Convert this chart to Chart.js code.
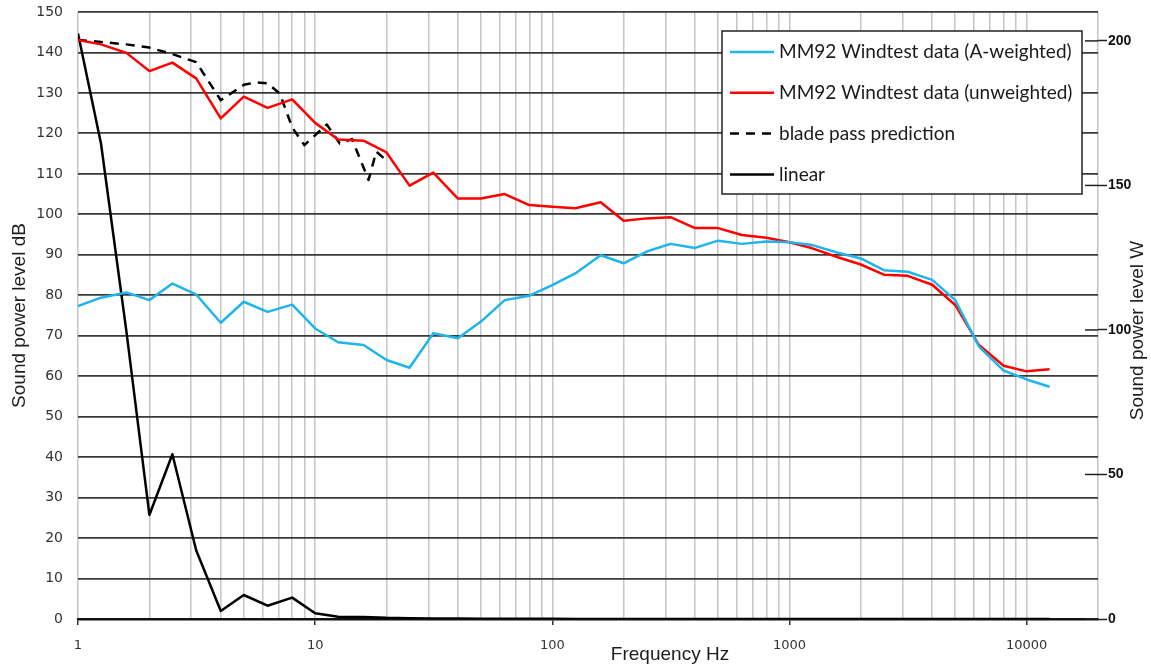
<!DOCTYPE html>
<html lang="en">
<head>
  <meta charset="UTF-8" />
  <title>Sound power level vs frequency</title>
  <script src="https://cdn.jsdelivr.net/npm/chart.js"></script>
  <style>
    html, body {
      margin: 0;
      padding: 0;
      background: #ffffff;
    }
    #wrap {
      width: 1151px;
      height: 666px;
    }
  </style>
</head>
<body>
  <div id="wrap"><canvas id="soundChart" width="1151" height="666"></canvas></div>

  <script>
    // 1/3 octave band centre frequencies (Hz)
    const freqs = [1, 1.25, 1.6, 2, 2.5, 3.15, 4, 5, 6.3, 8, 10, 12.5, 16, 20, 25, 31.5, 40, 50, 63, 80,
      100, 125, 160, 200, 250, 315, 400, 500, 630, 800, 1000, 1250, 1600, 2000, 2500, 3150, 4000, 5000,
      6300, 8000, 10000, 12500];

    // MM92 windtest, dB
    const aWeighted = [77.3, 79.4, 80.7, 78.8, 82.9, 80.2, 73.2, 78.4, 75.9, 77.7,
      71.8, 68.4, 67.7, 64.0, 62.1, 70.6, 69.4, 73.5, 78.8, 79.9,
      82.5, 85.4, 89.9, 87.9, 90.8, 92.7, 91.7, 93.5, 92.7, 93.3,
      93.1, 92.4, 90.5, 89.1, 86.2, 85.8, 83.8, 78.8, 67.3, 61.4, 59.2, 57.4];
    const unweighted = [143.1, 142.0, 139.9, 135.4, 137.5, 133.6, 123.7, 129.1, 126.3, 128.4,
      122.6, 118.5, 118.2, 115.3, 107.1, 110.3, 103.9, 103.9, 105.0, 102.3,
      101.9, 101.5, 103.0, 98.4, 99.0, 99.3, 96.6, 96.6, 94.9, 94.2,
      93.1, 91.6, 89.4, 87.6, 85.1, 84.8, 82.6, 77.6, 67.7, 62.6, 61.2, 61.7];

    // linear sound power, W (right axis)
    const linearW = [202.6, 164.5, 99.5, 36.0, 57.0, 23.8, 2.8, 8.3, 4.6, 7.4,
      2.0, 0.8, 0.7, 0.4, 0.3, 0.2, 0.2, 0.1, 0.1, 0.1,
      0.1, 0, 0, 0, 0, 0, 0, 0, 0, 0,
      0, 0, 0, 0, 0, 0, 0, 0, 0, 0, 0, 0];

    // blade pass prediction, dB
    const bladeFreqs = [1, 1.25, 1.6, 2, 2.5, 3.15, 4, 5, 5.6, 6.3, 7.1, 8, 9, 11.2, 12.7, 14.3, 16.8, 18.1, 19.9];
    const bladePass = [143.1, 142.6, 142.0, 141.2, 139.6, 137.6, 128.2, 132.0, 132.6, 132.4, 129.8, 121.5, 117.1,
      122.2, 117.5, 118.6, 108.5, 115.5, 113.4];

    const labeledFreqs = [1, 10, 100, 1000, 10000];
    const rightTicks = [0, 50, 100, 150, 200];
    const xMax = 20000;

    // vertical grid: 1..9 per decade, up to xMax
    const gridFreqs = [];
    for (let d = 1; d <= 10000; d *= 10) {
      for (let m = 1; m <= 9; m++) {
        if (m * d <= xMax) gridFreqs.push(m * d);
      }
    }

    const pts = (xs, ys) => xs.map((x, i) => ({ x: x, y: ys[i] }));

    const axisTitles = {
      id: "axisTitles",
      afterDraw(chart) {
        const { ctx, chartArea } = chart;
        ctx.save();
        ctx.fillStyle = "#1d1d1d";
        ctx.font = "19px 'Liberation Sans', Arial, sans-serif";
        ctx.textAlign = "center";
        ctx.textBaseline = "middle";

        ctx.fillText("Frequency Hz", chartArea.left + 592, chartArea.bottom + 36);

        ctx.save();
        ctx.translate(20, (chartArea.top + chartArea.bottom) / 2);
        ctx.rotate(-Math.PI / 2);
        ctx.fillText("Sound power level dB", 0, 0);
        ctx.restore();

        ctx.save();
        ctx.translate(chartArea.right + 40, (chartArea.top + chartArea.bottom) / 2 + 15);
        ctx.rotate(-Math.PI / 2);
        ctx.fillText("Sound power level W", 0, 0);
        ctx.restore();

        // inner part of the right axis tick marks
        const yR = chart.scales.yR;
        ctx.strokeStyle = "#222";
        ctx.lineWidth = 1.5;
        rightTicks.forEach(v => {
          const y = yR.getPixelForValue(v);
          ctx.beginPath();
          ctx.moveTo(chartArea.right - 13, y);
          ctx.lineTo(chartArea.right, y);
          ctx.stroke();
        });
        ctx.restore();
      }
    };

    const boxLegend = {
      id: "boxLegend",
      afterDatasetsDraw(chart) {
        const { ctx, chartArea } = chart;
        const left = chartArea.right - 376;
        const top = chartArea.top + 19;
        const w = 360, h = 163;
        ctx.save();
        ctx.fillStyle = "#ffffff";
        ctx.fillRect(left, top, w, h);
        ctx.strokeStyle = "#222";
        ctx.lineWidth = 1.5;
        ctx.strokeRect(left, top, w, h);

        ctx.font = "19px Lato, 'Open Sans', sans-serif";
        ctx.textBaseline = "middle";
        chart.data.datasets.forEach((ds, i) => {
          const y = top + 21 + i * 40.8;
          ctx.beginPath();
          ctx.strokeStyle = ds.borderColor;
          ctx.lineWidth = 2.5;
          ctx.setLineDash(ds.borderDash || []);
          ctx.moveTo(left + 8, y);
          ctx.lineTo(left + 52, y);
          ctx.stroke();
          ctx.setLineDash([]);
          ctx.fillStyle = "#1a1a1a";
          ctx.fillText(ds.label, left + 57, y);
        });
        ctx.restore();
      }
    };

    const common = {
      fill: false,
      pointRadius: 0,
      borderWidth: 2.5,
      tension: 0,
      borderJoinStyle: "round"
    };

    new Chart(document.getElementById("soundChart"), {
      type: "line",
      data: {
        datasets: [
          {
            ...common,
            label: "MM92 Windtest data (A-weighted)",
            data: pts(freqs, aWeighted),
            borderColor: "#1fb4ec",
            yAxisID: "y"
          },
          {
            ...common,
            label: "MM92 Windtest data (unweighted)",
            data: pts(freqs, unweighted),
            borderColor: "#ff0000",
            yAxisID: "y"
          },
          {
            ...common,
            label: "blade pass prediction",
            data: pts(bladeFreqs, bladePass),
            borderColor: "#000000",
            borderDash: [9, 7],
            yAxisID: "y"
          },
          {
            ...common,
            label: "linear",
            data: pts(freqs, linearW),
            borderColor: "#000000",
            yAxisID: "yR"
          }
        ]
      },
      options: {
        responsive: false,
        animation: false,
        layout: { padding: { top: 12, left: 0, right: 0, bottom: 0 } },
        plugins: {
          legend: { display: false },
          tooltip: { enabled: false }
        },
        scales: {
          x: {
            type: "logarithmic",
            min: 1,
            max: xMax,
            afterFit: s => { s.height = 47; },
            afterBuildTicks: s => { s.ticks = gridFreqs.map(v => ({ value: v })); },
            grid: {
              color: "#c6c6c6",
              lineWidth: 1.5,
              tickLength: 6,
              tickWidth: 1.5,
              tickColor: c => (c.tick && labeledFreqs.includes(c.tick.value)) ? "#333" : "rgba(0,0,0,0)"
            },
            border: { display: true, color: "#111", width: 2.5 },
            ticks: {
              autoSkip: false,
              maxRotation: 0,
              padding: 13,
              color: "#333",
              font: { family: "'DejaVu Sans', Verdana, sans-serif", size: 13 },
              callback: v => labeledFreqs.includes(v) ? String(v) : ""
            }
          },
          y: {
            position: "left",
            min: 0,
            max: 150,
            afterFit: s => { s.width = 78; },
            grid: {
              color: "#3a3a3a",
              lineWidth: 1.8,
              drawTicks: true,
              tickLength: 12,
              tickColor: "rgba(0,0,0,0)"
            },
            border: { display: false },
            ticks: {
              stepSize: 10,
              padding: 3,
              color: "#333",
              font: { family: "'DejaVu Sans', Verdana, sans-serif", size: 14 }
            }
          },
          yR: {
            position: "right",
            min: 0,
            max: 210,
            afterFit: s => { s.width = 53; },
            afterBuildTicks: s => { s.ticks = rightTicks.map(v => ({ value: v })); },
            grid: {
              drawOnChartArea: false,
              drawTicks: true,
              tickLength: 9,
              tickColor: "#222",
              tickWidth: 1.5
            },
            border: { display: false },
            ticks: {
              padding: 1,
              color: "#111",
              font: { family: "'Liberation Sans Narrow', 'Liberation Sans', Arial, sans-serif", size: 14, weight: "bold" }
            }
          }
        }
      },
      plugins: [axisTitles, boxLegend]
    });
  </script>
</body>
</html>
